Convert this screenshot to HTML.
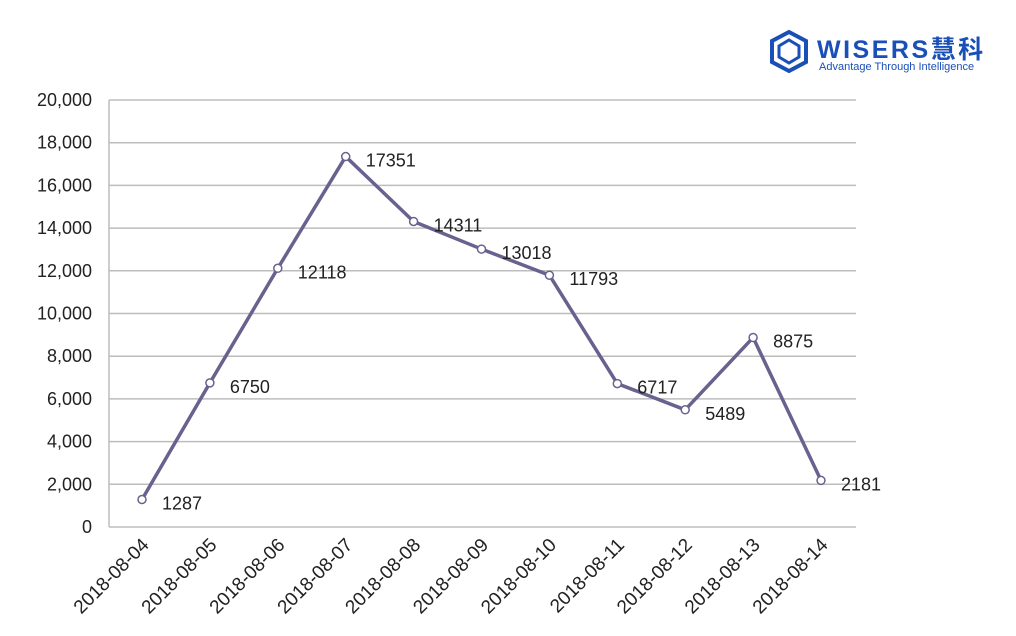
<!DOCTYPE html>
<html><head><meta charset="utf-8"><style>
html,body{margin:0;padding:0;background:#fff;}
svg{display:block;font-family:"Liberation Sans","Noto Sans CJK SC",sans-serif;}
</style></head><body>
<svg id="chart" width="1016" height="636" viewBox="0 0 1016 636">
  <g>
    <polygon points="789,32 806,41 806,62 789,71 772,62 772,41" fill="none" stroke="#1a4fb8" stroke-width="4"/>
    <polygon points="789,40 799,46 799,57 789,63 779,57 779,46" fill="none" stroke="#1a4fb8" stroke-width="3"/>
    <text x="817" y="58" font-size="25" font-weight="bold" fill="#1a4fb8" letter-spacing="2.5">WISERS慧科</text>
    <text x="819" y="70" font-size="11" fill="#1a4fb8">Advantage Through Intelligence</text>
  </g>
  <g id="grid"></g>
  <g id="yaxis"></g>
  <g id="xaxis"></g>
  <g id="series"></g>
</svg>
<script>
const categories = ["2018-08-04","2018-08-05","2018-08-06","2018-08-07","2018-08-08","2018-08-09","2018-08-10","2018-08-11","2018-08-12","2018-08-13","2018-08-14"];
const values = [1287,6750,12118,17351,14311,13018,11793,6717,5489,8875,2181];
const yTicks = [0,2000,4000,6000,8000,10000,12000,14000,16000,18000,20000];
const yTickLabels = ["0","2,000","4,000","6,000","8,000","10,000","12,000","14,000","16,000","18,000","20,000"];

const NS = "http://www.w3.org/2000/svg";
const plotL = 109, plotR = 856, plotT = 100, plotB = 527;
const yMax = 20000;
function yScale(v){ return plotB - (v / yMax) * (plotB - plotT); }
function xScale(i){ return 142 + i * (821 - 142) / (categories.length - 1); }
function mk(tag, attrs, parent){
  const e = document.createElementNS(NS, tag);
  for (const k in attrs) e.setAttribute(k, attrs[k]);
  parent.appendChild(e);
  return e;
}
const grid = document.getElementById('grid');
const yaxis = document.getElementById('yaxis');
const xaxis = document.getElementById('xaxis');
const series = document.getElementById('series');

yTicks.forEach((t, i) => {
  const y = yScale(t);
  const gl = mk('line', {x1: plotL, x2: plotR, y1: y, y2: y, stroke: '#bdbdbd', 'stroke-width': 1.5}, grid);
  
  
  const tx = mk('text', {x: 92, y: y + 6, 'font-size': 18, fill: '#222', 'text-anchor': 'end'}, yaxis);
  tx.textContent = yTickLabels[i];
  
  
});
const ax = mk('line', {x1: plotL, x2: plotL, y1: plotT, y2: plotB, stroke: '#bdbdbd', 'stroke-width': 1.5}, yaxis);



categories.forEach((c, i) => {
  const x = xScale(i) + 8;
  const y = 546;
  const tx = mk('text', {x: x, y: y, 'font-size': 19, fill: '#222', 'text-anchor': 'end', transform: 'rotate(-45 ' + x + ' ' + y + ')'}, xaxis);
  tx.textContent = c;
  
  
});

const pts = values.map((v, i) => xScale(i) + ',' + yScale(v)).join(' ');
const line = mk('polyline', {points: pts, fill: 'none', stroke: '#67628e', 'stroke-width': 3.5, 'stroke-linejoin': 'round'}, series);


values.forEach((v, i) => {
  const cx = xScale(i), cy = yScale(v);
  const p = mk('circle', {cx: cx, cy: cy, r: 4, fill: '#fff', stroke: '#67628e', 'stroke-width': 1.5}, series);
  
  
  const lb = mk('text', {x: cx + 20, y: cy + 10, 'font-size': 18, fill: '#222'}, series);
  lb.textContent = String(v);
  
  
});
</script>
</body></html>
